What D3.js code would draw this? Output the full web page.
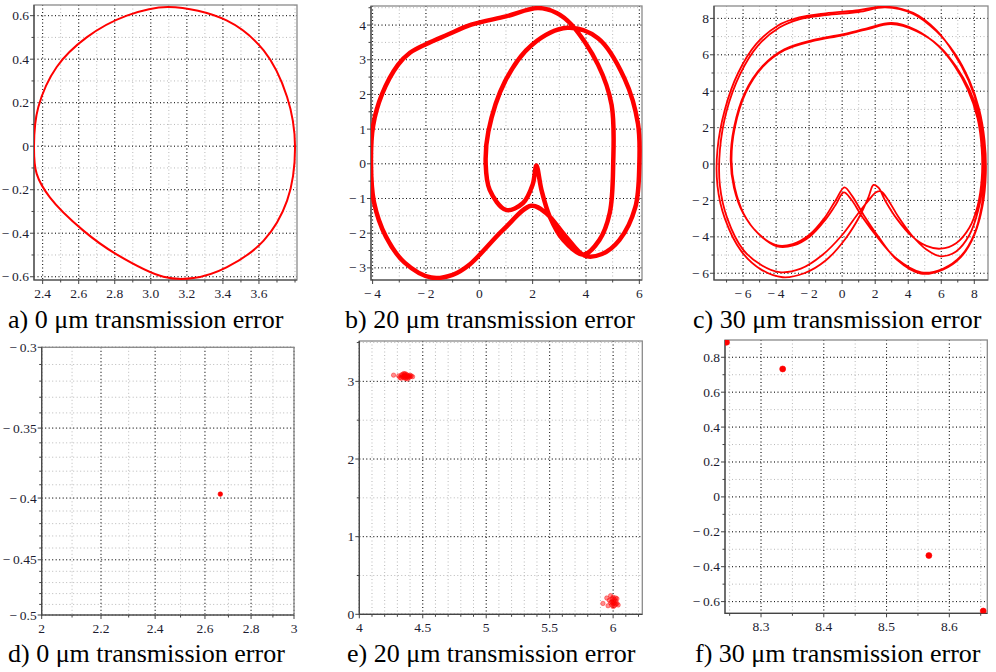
<!DOCTYPE html>
<html>
<head>
<meta charset="utf-8">
<script src="https://cdn.jsdelivr.net/npm/d3@7"></script>
<style>
  body { margin: 0; background: #fff; }
  svg { display: block; }
</style>
</head>
<body>
<div id="chart"></div>
<script>
// phase portraits (top row) and Poincare sections (bottom row)

// a) 0 um - single closed orbit
const orbitA = [
  [3.098, 0.640], [3.42, 0.578], [3.626, 0.44], [3.756, 0.226], [3.80, 0.0],
  [3.756, -0.25], [3.626, -0.434], [3.42, -0.557], [3.237, -0.606], [3.07, -0.60],
  [2.81, -0.497], [2.626, -0.388], [2.44, -0.235], [2.367, -0.127], [2.352, 0.0],
  [2.376, 0.18], [2.478, 0.364], [2.644, 0.50], [2.867, 0.60]
];

// b) 20 um - multi-loop orbit
const orbitB = [
  [2.2, 4.49], [1.0, 4.25], [-0.3, 4.01], [-1.2, 3.72], [-2.0, 3.45], [-2.6, 3.2],
  [-3.05, 2.85], [-3.65, 2.0], [-3.98, 1.1], [-4.06, 0], [-3.95, -1.1], [-3.5, -2.1],
  [-2.8, -2.85], [-1.8, -3.28], [-1.0, -3.2], [-0.36, -2.9], [0.9, -1.9], [1.95, -1.21],
  [2.5, -1.42], [3.25, -2.1], [3.95, -2.65], [4.6, -2.6], [5.25, -2.2], [5.85, -1.25],
  [6.0, 0], [5.95, 1.15], [5.45, 2.45], [4.45, 3.62], [3.3, 3.92], [1.96, 3.42],
  [0.96, 2.37], [0.34, 0.93], [0.24, 0], [0.39, -0.75], [1.0, -1.33], [1.64, -1.13],
  [2.0, -0.6], [2.14, -0.05], [2.33, -0.75], [2.64, -1.52], [3.15, -2.2], [3.9, -2.62],
  [4.5, -2.2], [4.89, -1.42], [5.02, 0], [4.96, 1.7], [4.45, 2.86], [3.46, 4.01], [2.9, 4.35]
];

// c) 30 um - four loops, joined end to end
const loopC1 = [
  [2.55, 8.65], [1.0, 8.45], [-1.0, 8.28], [-2.6, 8.05], [-3.9, 7.6], [-5.2, 6.6], [-6.3, 5.0],
  [-7.1, 3.0], [-7.55, 0.8], [-7.55, -1.2], [-7.1, -3.0], [-6.1, -4.8], [-4.9, -5.8], [-3.6, -6.22],
  [-2.3, -6.0], [-1.0, -5.3], [0.2, -4.1], [1.1, -2.8], [1.6, -1.8], [1.9, -1.15], [2.2, -1.3],
  [2.6, -2.0], [3.3, -3.0], [4.2, -3.95], [5.1, -4.5], [5.96, -4.65], [6.9, -4.35], [7.7, -3.5],
  [8.2, -2.3], [8.45, -0.8], [8.45, 0.8], [8.2, 2.5], [7.6, 4.1], [6.8, 5.4], [5.8, 6.5],
  [4.5, 7.35], [3.0, 7.75]
];
const loopC2 = [
  [1.5, 7.45], [0, 7.12], [-1.8, 6.8], [-3.5, 6.3], [-4.8, 5.4], [-5.9, 3.9], [-6.55, 2.0],
  [-6.75, 0.2], [-6.55, -1.3], [-6.0, -2.7], [-5.1, -3.8], [-4.0, -4.45], [-3.0, -4.4], [-2.0, -3.9],
  [-1.1, -3.0], [-0.4, -2.0], [0.14, -1.28], [0.6, -1.75], [1.3, -2.8], [2.2, -4.0], [3.3, -5.25],
  [4.76, -6.02], [6.1, -5.8], [7.2, -5.1], [8.0, -3.9], [8.5, -2.3], [8.7, -0.5], [8.62, 1.3],
  [8.3, 3.0], [7.7, 4.6], [6.8, 6.1], [5.7, 7.3], [4.3, 8.25], [2.6, 8.6]
];
const loopC3 = [
  [1.0, 8.35], [-1.0, 8.18], [-2.6, 7.95], [-3.8, 7.5], [-5.1, 6.5], [-6.2, 4.9], [-7.0, 2.9],
  [-7.4, 0.8], [-7.4, -1.2], [-6.95, -3.0], [-6.0, -4.7], [-4.9, -5.55], [-3.8, -5.94], [-2.5, -5.75],
  [-1.2, -5.0], [0.0, -3.9], [0.9, -2.8], [1.6, -2.0], [2.05, -1.55], [2.35, -1.5], [2.8, -2.0],
  [3.4, -2.9], [4.2, -3.9], [5.1, -4.7], [5.96, -5.07], [6.9, -4.8], [7.7, -3.9], [8.25, -2.5],
  [8.55, -0.8], [8.55, 0.8], [8.3, 2.5], [7.75, 4.0], [6.9, 5.35], [5.9, 6.45], [4.5, 7.3], [2.95, 7.68]
];
const loopC4 = [
  [1.5, 7.4], [0, 7.07], [-1.8, 6.75], [-3.5, 6.25], [-4.8, 5.35], [-5.85, 3.9], [-6.5, 2.0],
  [-6.7, 0.2], [-6.5, -1.3], [-5.95, -2.75], [-5.05, -3.85], [-3.95, -4.52], [-2.95, -4.47],
  [-1.95, -3.98], [-1.05, -3.1], [-0.4, -2.25], [0.1, -1.56], [0.55, -1.95], [1.25, -2.95],
  [2.2, -4.1], [3.3, -5.2], [4.8, -5.95], [6.1, -5.75], [7.2, -5.05], [8.0, -3.85], [8.45, -2.3],
  [8.65, -0.5], [8.58, 1.3], [8.25, 3.0], [7.65, 4.6], [6.75, 6.1], [5.7, 7.35], [4.3, 8.3]
];

// d) e) f) Poincare points
const pointsD = [[2.665, -0.397]];
const pointsE = [
  [4.27, 3.08], [4.31, 3.07], [4.32, 3.05], [4.33, 3.08], [4.34, 3.06], [4.34, 3.09],
  [4.35, 3.07], [4.35, 3.05], [4.36, 3.08], [4.36, 3.06], [4.36, 3.10], [4.37, 3.07],
  [4.37, 3.04], [4.37, 3.09], [4.38, 3.06], [4.38, 3.08], [4.39, 3.07], [4.39, 3.05],
  [4.40, 3.08], [4.40, 3.06], [4.41, 3.07], [4.42, 3.06], [4.35, 3.10], [4.33, 3.04],
  [4.38, 3.03], [4.36, 3.04],
  [5.92, 0.14], [5.95, 0.21], [5.96, 0.11], [5.97, 0.18], [5.98, 0.24], [5.98, 0.15],
  [5.99, 0.20], [5.99, 0.12], [6.00, 0.17], [6.00, 0.22], [6.00, 0.10], [6.01, 0.15],
  [6.01, 0.19], [6.02, 0.13], [6.02, 0.17], [6.03, 0.14], [6.03, 0.20], [6.04, 0.12],
  [6.00, 0.14], [5.99, 0.16], [6.01, 0.11], [6.02, 0.21]
];
const pointsF = [[8.245, 0.886], [8.3345, 0.733], [8.5674, -0.336], [8.654, -0.654]];

// tick values
const aXTicks = [2.4, 2.6, 2.8, 3.0, 3.2, 3.4, 3.6];
const aYTicks = [-0.6, -0.4, -0.2, 0, 0.2, 0.4, 0.6];
const bXTicks = [-4, -2, 0, 2, 4, 6];
const bYTicks = [-3, -2, -1, 0, 1, 2, 3, 4];
const cXTicks = [-6, -4, -2, 0, 2, 4, 6, 8];
const cYTicks = [-6, -4, -2, 0, 2, 4, 6, 8];
const dXTicks = [2, 2.2, 2.4, 2.6, 2.8, 3];
const dYTicks = [-0.5, -0.45, -0.4, -0.35, -0.3];
const eXTicks = [4, 4.5, 5, 5.5, 6];
const eYTicks = [0, 1, 2, 3];
const fXTicks = [8.3, 8.4, 8.5, 8.6];
const fYTicks = [-0.6, -0.4, -0.2, 0, 0.2, 0.4, 0.6, 0.8];

const captions = [
  "a) 0 \u03bcm transmission error", "b) 20 \u03bcm transmission error", "c) 30 \u03bcm transmission error",
  "d) 0 \u03bcm transmission error", "e) 20 \u03bcm transmission error", "f) 30 \u03bcm transmission error"
];

const W = 996, H = 672;
const RED = "#ff0000";
const serif = "Liberation Serif, DejaVu Serif, serif";

const svg = d3.select("#chart").append("svg").attr("width", W).attr("height", H);

function fmt(v) {
  const s = String(+v.toFixed(4));
  return v < 0 ? "\u2212\u2009" + s.slice(1) : s;
}

function minorRange(lo, hi, step) {
  const out = [];
  for (let k = Math.ceil(lo / step - 1e-6); k * step <= hi + 1e-9; k++) out.push(+(k * step).toFixed(6));
  return out;
}

function drawPanel(id, cfg) {
  const [x0, y0, x1, y1] = cfg.box;
  const x = cfg.x.range([x0, x1]);
  const y = cfg.y.range([y1, y0]);
  const g = svg.append("g");

  g.append("clipPath").attr("id", "clip" + id)
    .append("rect").attr("x", x0).attr("y", y0).attr("width", x1 - x0).attr("height", y1 - y0);

  const xd = x.domain(), yd = y.domain();
  const xMin = minorRange(Math.min(...xd), Math.max(...xd), cfg.xMinor);
  const yMin = minorRange(Math.min(...yd), Math.max(...yd), cfg.yMinor);

  // minor grid
  g.selectAll(".vm").data(xMin).join("line")
    .attr("x1", d => x(d)).attr("x2", d => x(d)).attr("y1", y0).attr("y2", y1)
    .attr("stroke", "#b8b8b8").attr("stroke-dasharray", "1,2.5");
  g.selectAll(".hm").data(yMin).join("line")
    .attr("y1", d => y(d)).attr("y2", d => y(d)).attr("x1", x0).attr("x2", x1)
    .attr("stroke", "#b8b8b8").attr("stroke-dasharray", "1,2.5");
  // major grid
  g.selectAll(".vM").data(cfg.xTicks).join("line")
    .attr("x1", d => x(d)).attr("x2", d => x(d)).attr("y1", y0).attr("y2", y1)
    .attr("stroke", "#111").attr("stroke-dasharray", "1,2.5");
  g.selectAll(".hM").data(cfg.yTicks).join("line")
    .attr("y1", d => y(d)).attr("y2", d => y(d)).attr("x1", x0).attr("x2", x1)
    .attr("stroke", "#111").attr("stroke-dasharray", "1,2.5");

  // frame
  g.append("rect").attr("x", x0).attr("y", y0).attr("width", x1 - x0).attr("height", y1 - y0)
    .attr("fill", "none").attr("stroke", "#8a8a8a").attr("stroke-width", 1.3);
  g.append("path").attr("d", `M${x0},${y0}V${y1}H${x1}`)
    .attr("fill", "none").attr("stroke", "#444").attr("stroke-width", 1.2);

  // small ticks, outward
  g.selectAll(".xt").data(xMin).join("line")
    .attr("x1", d => x(d)).attr("x2", d => x(d)).attr("y1", y1).attr("y2", d => y1 + (cfg.xTicks.some(t => Math.abs(t - d) < 1e-6) ? 4 : 2.5))
    .attr("stroke", "#444");
  g.selectAll(".yt").data(yMin).join("line")
    .attr("y1", d => y(d)).attr("y2", d => y(d)).attr("x1", x0).attr("x2", d => x0 - (cfg.yTicks.some(t => Math.abs(t - d) < 1e-6) ? 4 : 2.5))
    .attr("stroke", "#444");

  // tick labels
  const xf = cfg.xFmt || fmt;
  g.selectAll(".xl").data(cfg.xTicks).join("text")
    .attr("x", d => x(d)).attr("y", y1 + 18)
    .attr("text-anchor", "middle").attr("font-family", serif).attr("font-size", 13.5).attr("fill", "#1c1c30")
    .text(xf);
  g.selectAll(".yl").data(cfg.yTicks).join("text")
    .attr("x", x0 - 5).attr("y", d => y(d) + 4.5)
    .attr("text-anchor", "end").attr("font-family", serif).attr("font-size", 13.5).attr("fill", "#1c1c30")
    .text(fmt);

  const plot = g.append("g").attr("clip-path", `url(#clip${id})`);
  return { x, y, plot };
}

function drawCurve(p, data, width, closed) {
  const line = d3.line().x(d => p.x(d[0])).y(d => p.y(d[1]))
    .curve(closed ? d3.curveCatmullRomClosed.alpha(0.5) : d3.curveCatmullRom.alpha(0.5));
  p.plot.append("path").attr("d", line(data))
    .attr("fill", "none").attr("stroke", RED).attr("stroke-width", width).attr("stroke-linejoin", "round");
}

function drawDots(p, data, r, opacity) {
  p.plot.selectAll("circle").data(data).join("circle")
    .attr("cx", d => p.x(d[0])).attr("cy", d => p.y(d[1])).attr("r", r)
    .attr("fill", RED).attr("fill-opacity", opacity).attr("stroke", RED).attr("stroke-opacity", Math.min(1, opacity + 0.2)).attr("stroke-width", 0.6);
}

const pa = drawPanel("a", {
  box: [34, 5, 297, 280],
  x: d3.scaleLinear().domain([2.352, 3.811]), y: d3.scaleLinear().domain([-0.615, 0.649]),
  xTicks: aXTicks, yTicks: aYTicks, xMinor: 0.1, yMinor: 0.1, xFmt: d3.format(".1f")
});
drawCurve(pa, orbitA, 2, true);

const pb = drawPanel("b", {
  box: [371, 6, 642, 280],
  x: d3.scaleLinear().domain([-4.06, 6.1]), y: d3.scaleLinear().domain([-3.35, 4.55]),
  xTicks: bXTicks, yTicks: bYTicks, xMinor: 1, yMinor: 0.5
});
drawCurve(pb, orbitB, 4.5, true);

const pc = drawPanel("c", {
  box: [714, 6, 988, 280],
  x: d3.scaleLinear().domain([-7.76, 8.83]), y: d3.scaleLinear().domain([-6.37, 8.68]),
  xTicks: cXTicks, yTicks: cYTicks, xMinor: 1, yMinor: 1
});
drawCurve(pc, [...loopC1, ...loopC2, ...loopC3, ...loopC4], 1.8, true);

const pd = drawPanel("d", {
  box: [41.7, 347.3, 294, 615],
  x: d3.scaleLog().domain([2, 3]), y: d3.scaleLog().domain([-0.5, -0.3]),
  xTicks: dXTicks, yTicks: dYTicks, xMinor: 0.1, yMinor: 0.01
});
drawDots(pd, pointsD, 2.3, 1);

const pe = drawPanel("e", {
  box: [359.3, 341, 642.3, 614.3],
  x: d3.scaleLinear().domain([4, 6.23]), y: d3.scaleLinear().domain([0, 3.52]),
  xTicks: eXTicks, yTicks: eYTicks, xMinor: 0.1, yMinor: 0.5
});
drawDots(pe, pointsE, 2.2, 0.45);

const pf = drawPanel("f", {
  box: [725, 340, 987.3, 613.3],
  x: d3.scaleLinear().domain([8.2426, 8.6605]), y: d3.scaleLinear().domain([-0.667, 0.899]),
  xTicks: fXTicks, yTicks: fYTicks, xMinor: 0.05, yMinor: 0.1
});
drawDots(pf, pointsF, 3, 1);

// captions
const capPos = [[8, 328], [345, 328], [693, 328], [8, 662], [347, 662], [695, 662]];
svg.selectAll(".cap").data(captions).join("text")
  .attr("x", (d, i) => capPos[i][0]).attr("y", (d, i) => capPos[i][1])
  .attr("font-family", serif).attr("font-size", 26).attr("fill", "#000")
  .text(d => d);
</script>
</body>
</html>
